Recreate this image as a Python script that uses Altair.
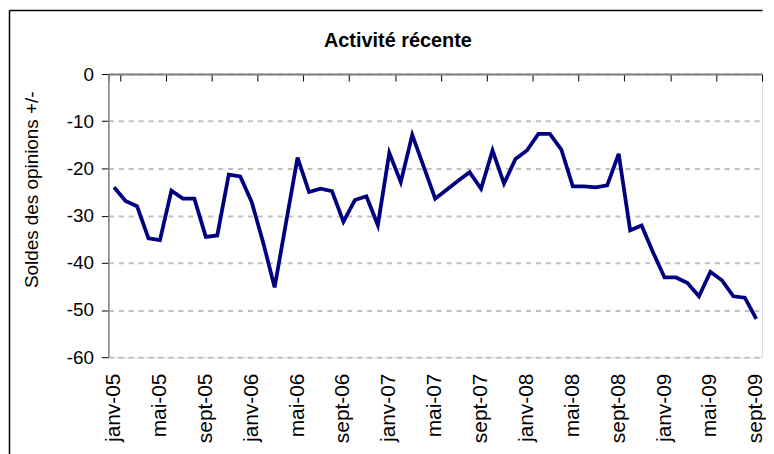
import altair as alt
import pandas as pd

months = [
    "janv-05", "févr-05", "mars-05", "avr-05", "mai-05", "juin-05", "juil-05", "août-05", "sept-05", "oct-05", "nov-05", "déc-05",
    "janv-06", "févr-06", "mars-06", "avr-06", "mai-06", "juin-06", "juil-06", "août-06", "sept-06", "oct-06", "nov-06", "déc-06",
    "janv-07", "févr-07", "mars-07", "avr-07", "mai-07", "juin-07", "juil-07", "août-07", "sept-07", "oct-07", "nov-07", "déc-07",
    "janv-08", "févr-08", "mars-08", "avr-08", "mai-08", "juin-08", "juil-08", "août-08", "sept-08", "oct-08", "nov-08", "déc-08",
    "janv-09", "févr-09", "mars-09", "avr-09", "mai-09", "juin-09", "juil-09", "août-09", "sept-09",
]
values = [
    -24.0, -26.9, -28.0, -34.8, -35.2, -24.7, -26.4, -26.4, -34.5, -34.2, -21.3, -21.7,
    -27.1, -35.7, -45.2, -31.4, -17.7, -25.0, -24.3, -24.8, -31.3, -26.7, -25.9, -32.0,
    -16.7, -22.9, -12.9, -19.6, -26.4, -24.5, -22.6, -20.8, -24.3, -16.2, -23.2, -18.0,
    -16.2, -12.7, -12.7, -16.0, -23.8, -23.8, -24.0, -23.6, -16.9, -33.1, -32.1, -37.8,
    -43.1, -43.1, -44.3, -47.1, -41.9, -43.7, -47.1, -47.4, -51.9,
]
label_months = months[::4]
y_ticks = [0, -10, -20, -30, -40, -50, -60]

title_text = "Activité récente"
y_title = "Soldes des opinions +/-"

df = pd.DataFrame({"mois": months, "solde": values})

W = 658
H = 285
FONT = "Liberation Sans"

xscale = alt.Scale(type="band", paddingInner=0, paddingOuter=0)
yscale = alt.Scale(domain=[-60, 0], nice=False)

line = alt.Chart(df).mark_line(color="#000080", strokeWidth=3.8).encode(
    x=alt.X(
        "mois:O", sort=months, scale=xscale, bandPosition=0.5,
        axis=alt.Axis(
            orient="bottom", values=label_months, labelAngle=-90, labelFontSize=21,
            labelFont=FONT, labelColor="black", labelPadding=16, ticks=False,
            domain=False, grid=False, title=None,
        ),
    ),
    y=alt.Y(
        "solde:Q", scale=yscale,
        axis=alt.Axis(
            values=y_ticks, labelFontSize=19, labelFont=FONT, labelColor="black",
            labelExpr="datum.value < 0 ? '-' + abs(datum.value) : '' + datum.value",
            labelPadding=8, tickColor="black", tickSize=7, tickWidth=1,
            domainColor="#808080", domainWidth=1.5,
            grid=True, gridColor="#c0c0c0", gridDash=[5, 5], gridWidth=2,
            title=y_title, titleFont=FONT, titleFontSize=19, titleFontWeight="normal",
            titleColor="black", titleAngle=-90, titleBaseline="middle", titleAlign="center",
            titleX=-77.5, titleY=116,
        ),
    ),
)

tick_layer = alt.Chart(df).mark_line(strokeOpacity=0).encode(
    x=alt.X(
        "mois:O", sort=months, scale=xscale,
        axis=alt.Axis(
            orient="bottom", offset=-H, values=label_months, labels=False,
            tickBand="extent", tickColor="black", tickSize=7, tickWidth=1,
            domainColor="#808080", domainWidth=2, grid=False, title=None,
        ),
    ),
    y=alt.Y("solde:Q", scale=yscale, axis=None),
)

one = alt.Data(values=[{"t": title_text}])

title_mark = alt.Chart(one).mark_text(
    font=FONT, fontSize=20, fontWeight="bold", color="black",
    align="center", baseline="alphabetic",
).encode(x=alt.value(291.5), y=alt.value(-27.5), text="t:N")

frame_top = alt.Chart(one).mark_rule(color="black", strokeWidth=1.5).encode(
    x=alt.value(-99.5), x2=alt.value(W + 0.5), y=alt.value(-64)
)
frame_left = alt.Chart(one).mark_rule(color="black", strokeWidth=1.5).encode(
    x=alt.value(-99.5), y=alt.value(-64), y2=alt.value(H + 100)
)

chart = (
    alt.layer(frame_top, frame_left, title_mark, tick_layer, line)
    .resolve_axis(x="independent", y="independent")
    .properties(width=W, height=H, padding=0)
    .configure_view(stroke=None)
    .configure(background="white")
)

chart.save("out.html", embed_options={"renderer": "svg", "actions": False})
